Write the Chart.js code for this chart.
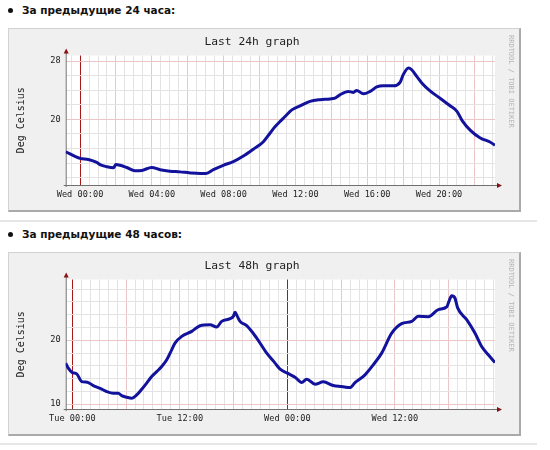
<!DOCTYPE html>
<html><head><meta charset="utf-8">
<script src="https://cdn.jsdelivr.net/npm/chart.js@4.4.1/dist/chart.umd.min.js"></script>
<style>
html,body{margin:0;padding:0;}
body{width:550px;height:450px;background:#fff;position:relative;overflow:hidden;font-family:"DejaVu Sans",sans-serif;}
.h{position:absolute;left:22px;font-weight:bold;font-size:10.5px;line-height:14px;color:#111;white-space:nowrap;}
.bul{position:absolute;left:8px;width:5px;height:5px;border-radius:50%;background:#111;}
.sep{position:absolute;left:0;width:537px;height:2px;background:#e6e6e6;}
.box{position:absolute;left:8px;width:510px;height:181px;background:#f0f0f0;border-top:1px solid #d2d2d2;border-left:1px solid #d2d2d2;border-right:2px solid #aaa;border-bottom:2px solid #aaa;}
.box canvas{position:absolute;left:0;top:0;}
.wm{position:absolute;left:498px;top:6px;writing-mode:vertical-rl;font-family:"DejaVu Sans Mono",monospace;font-size:7px;line-height:8px;color:#b4b4b4;white-space:nowrap;}
</style>
</head><body>
<div class="bul" style="top:8px"></div>
<div class="h" style="top:3px">За предыдущие 24 часа:</div>
<div class="box" style="top:28px"><canvas id="c24" width="510" height="181"></canvas><div class="wm">RRDTOOL / TOBI OETIKER</div></div>
<div class="sep" style="top:220px"></div>
<div class="bul" style="top:232px"></div>
<div class="h" style="top:227px">За предыдущие 48 часов:</div>
<div class="box" style="top:252px"><canvas id="c48" width="510" height="181"></canvas><div class="wm">RRDTOOL / TOBI OETIKER</div></div>
<div class="sep" style="top:443px"></div>
<script>
// ---- data (hours relative to first midnight, temperature in deg C) ----
const hours24 = [-0.8,0,0.46,0.93,1.11,1.49,1.86,2.0,2.23,2.6,3.06,3.44,3.99,4.46,5.0,5.57,6.13,6.69,7.02,7.43,7.98,8.54,9.1,9.65,10.2,10.58,10.86,11.14,11.42,11.8,12.26,12.81,13.37,13.93,14.2,14.5,14.95,15.23,15.41,15.79,16.16,16.53,16.9,17.46,17.83,18.0,18.3,18.48,18.76,19.04,19.5,20.06,20.6,21.0,21.3,21.75,22.3,22.84,23.12];
const temp24 = [15.56,14.65,14.5,14.1,13.8,13.5,13.35,13.8,13.7,13.4,12.95,13.0,13.4,13.1,12.9,12.8,12.66,12.58,12.58,13.1,13.7,14.2,14.97,15.9,16.9,18.1,19.0,19.7,20.4,21.3,21.86,22.46,22.7,22.8,22.9,23.4,23.83,23.7,23.97,23.5,23.83,24.44,24.6,24.6,25.08,26.1,27.06,26.8,25.9,25.0,23.9,22.9,21.9,21.1,19.8,18.5,17.45,16.9,16.45];
const hours48 = [-0.74,-0.45,0,0.49,1.05,1.67,2.34,3.09,3.84,4.58,5.13,5.5,6.07,6.63,7.19,7.75,8.3,8.86,9.42,9.98,10.54,11.09,11.46,12.21,13.33,14.25,15.37,16.12,16.67,17.6,17.97,18.16,18.42,18.72,19.46,20.58,21.7,22.63,23.19,24.0,24.86,25.6,26.16,27.09,28.01,29.13,30.07,30.99,31.55,32.67,33.59,34.53,35.65,36.76,37.88,38.62,39.73,40.85,41.79,42.04,42.34,42.71,43.01,44.02,44.94,45.69,46.43,47.18];
const temp48 = [16.43,15.64,14.95,14.75,13.54,13.44,12.92,12.5,11.98,11.72,11.72,11.35,11.1,10.94,11.46,12.35,13.3,14.33,15.1,15.9,16.94,18.5,19.56,20.6,21.38,22.27,22.43,22.07,22.95,23.37,23.73,24.36,23.73,22.95,22.27,20.34,17.99,16.43,15.49,14.86,14.23,13.39,13.92,13.13,13.5,12.92,12.76,12.6,13.39,14.6,16.16,17.99,21.1,22.59,22.95,23.73,23.68,24.78,25.2,26.08,26.97,26.6,25.05,23.21,21.13,19.03,17.73,16.52];
const xTickHours24 = [0,4,8,12,16,20];
const xTickLabels24 = ['Wed 00:00','Wed 04:00','Wed 08:00','Wed 12:00','Wed 16:00','Wed 20:00'];
const xTickHours48 = [0,12,24,36];
const xTickLabels48 = ['Tue 00:00','Tue 12:00','Wed 00:00','Wed 12:00'];
const yTicks24 = [20,28];
const yTicks48 = [10,20];
const midnights24 = [0];
const midnights48 = [0,24];

const near = (a,b)=>Math.abs(a-b)<1e-6;
const isMult = (v,m)=>near(v, Math.round(v/m)*m);
const MONO = "'DejaVu Sans Mono', monospace";

const bgPlugin = {
  id:'bg',
  beforeDraw(chart){
    const {ctx, chartArea:a} = chart;
    ctx.save();
    ctx.fillStyle='#ffffff';
    ctx.fillRect(a.left, a.top, a.right-a.left, a.bottom-a.top);
    ctx.restore();
  }
};
const axesPlugin = {
  id:'axes',
  beforeDatasetsDraw(chart){
    const {ctx, chartArea:a} = chart;
    ctx.save();
    ctx.strokeStyle='#707070'; ctx.lineWidth=1;
    ctx.beginPath();
    ctx.moveTo(a.left-2, a.bottom+0.5); ctx.lineTo(a.right+3, a.bottom+0.5);
    ctx.moveTo(a.left+0.5, a.bottom+2); ctx.lineTo(a.left+0.5, a.top-3);
    ctx.stroke();
    ctx.fillStyle='#8a1010';
    ctx.beginPath();
    ctx.moveTo(a.right+7, a.bottom+0.5); ctx.lineTo(a.right+2, a.bottom-2); ctx.lineTo(a.right+2, a.bottom+3); ctx.closePath();
    ctx.fill();
    ctx.beginPath();
    ctx.moveTo(a.left+0.5, a.top-7); ctx.lineTo(a.left-2, a.top-2); ctx.lineTo(a.left+3, a.top-2); ctx.closePath();
    ctx.fill();
    ctx.restore();
  }
};

function makeChart(id, cfg){
  const pts = cfg.hours.map((h,i)=>({x:h, y:cfg.temps[i]}));
  return new Chart(document.getElementById(id), {
    type:'line',
    data:{datasets:[{data:pts, borderColor:'#12129c', borderWidth:3, pointRadius:0, cubicInterpolationMode:'monotone', fill:false}]},
    options:{
      responsive:false, animation:false, events:[],
      layout:{padding:{left:0, right:24, top:0, bottom:0}},
      plugins:{
        legend:{display:false}, tooltip:{enabled:false},
        title:{display:true, text:cfg.title, color:'#222', font:{family:MONO, size:11.3, weight:'normal'}, padding:{top:6, bottom:7}}
      },
      scales:{
        x:{
          type:'linear', min:cfg.xmin, max:cfg.xmax,
          afterFit:s=>{s.height=25;},
          border:{display:false},
          grid:{drawTicks:false, lineWidth:1, color:c=>{
            const v=c.tick.value;
            if (cfg.midnights.some(m=>near(m,v))) return '#a81818';
            if (isMult(v,cfg.xmajor)) return '#ecc6c6';
            return '#e3e3e3';
          }},
          ticks:{stepSize:cfg.xstep, includeBounds:false, autoSkip:false, maxRotation:0, minRotation:0, padding:5, color:'#222',
            font:{family:MONO, size:8.6},
            callback:v=>{const i=cfg.xTickHours.findIndex(h=>near(h,v)); return i>=0?cfg.xTickLabels[i]:'';}}
        },
        y:{
          type:'linear', min:cfg.ymin, max:cfg.ymax,
          afterFit:s=>{s.width=56.7;},
          border:{display:false},
          grid:{drawTicks:false, lineWidth:1, color:c=>{
            const v=c.tick.value;
            return cfg.yTicks.some(t=>near(t,v)) ? '#ecc6c6' : '#e3e3e3';
          }},
          ticks:{stepSize:2, includeBounds:false, autoSkip:false, padding:5, color:'#222',
            font:{family:MONO, size:8.6},
            callback:v=>cfg.yTicks.some(t=>near(t,v)) ? String(Math.round(v)) : ''},
          title:{display:true, text:'Deg Celsius', color:'#222', font:{family:MONO, size:10}, padding:{top:6, bottom:0}}
        }
      }
    },
    plugins:[bgPlugin, axesPlugin]
  });
}

makeChart('c24', {title:'Last 24h graph', hours:hours24, temps:temp24, xmin:-0.8, xmax:23.12, xstep:0.5, xmajor:2,
  xTickHours:xTickHours24, xTickLabels:xTickLabels24, midnights:midnights24, ymin:11.0, ymax:28.75, yTicks:yTicks24});
makeChart('c48', {title:'Last 48h graph', hours:hours48, temps:temp48, xmin:-0.74, xmax:47.18, xstep:1, xmajor:6,
  xTickHours:xTickHours48, xTickLabels:xTickLabels48, midnights:midnights48, ymin:9.26, ymax:29.48, yTicks:yTicks48});
</script>
</body></html>
